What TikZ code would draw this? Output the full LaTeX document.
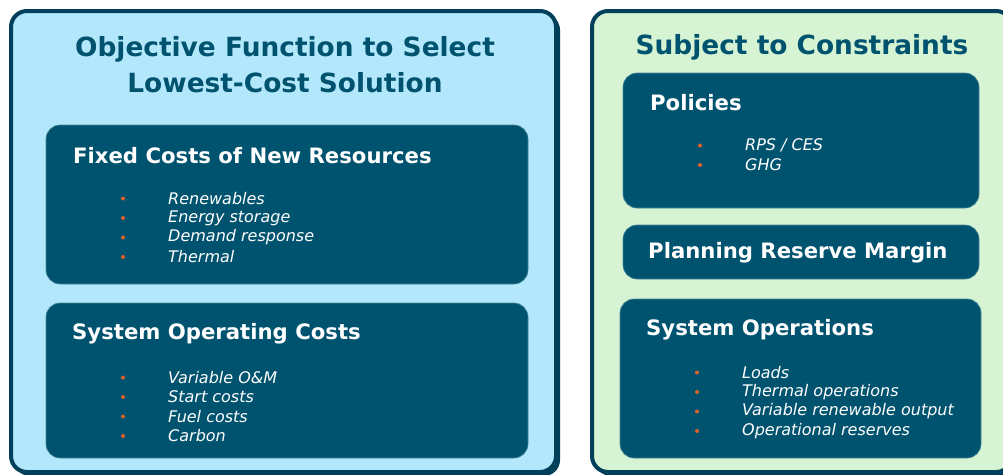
\documentclass[tikz,border=0pt]{standalone}
\usepackage{fontspec}
\setmainfont{DejaVu Sans}
\usetikzlibrary{positioning}

\definecolor{paneline}{HTML}{00405A}
\definecolor{bluepane}{HTML}{B3E7FB}
\definecolor{greenpane}{HTML}{D6F3D3}
\definecolor{tealbox}{HTML}{00536F}
\definecolor{dotorange}{HTML}{E0602A}

\begin{document}
\begin{tikzpicture}[x=1pt, y=-1pt,
  panel/.style={draw=paneline, line width=4pt, rounded corners=16pt},
  box/.style={fill=tealbox, draw=tealbox!70!white, line width=0.6pt, rounded corners=14pt},
  paneltitle/.style={text=tealbox, font=\fontsize{26.4}{36}\selectfont\bfseries, align=center},
  boxtitle/.style={text=white, font=\fontsize{21.2}{24}\selectfont\bfseries, anchor=west, inner sep=0pt},
  item/.style={text=white, font=\fontsize{16}{19}\selectfont\itshape, anchor=west, inner sep=0pt},
]
  \useasboundingbox (0,0) rectangle (1003,474);
  % two outer panels, with a dark shadow
  \fill[paneline, rounded corners=16pt] (14,14) rectangle (560,476);
  \draw[panel, fill=bluepane] (11,11) rectangle (556,472);
  \fill[paneline, rounded corners=16pt] (595,14) rectangle (1015,476);
  \draw[panel, fill=greenpane] (592,11) rectangle (1012,472);
  \node[paneltitle] (objtitle) at (285,65) {Objective Function to Select\\Lowest-Cost Solution};
  \node[paneltitle] (contitle) at (802,47) {Subject to Constraints};

  % left side: cost boxes
  \node[box, minimum width=482, minimum height=159] (fixed) at (287,204.5) {};
  \node[boxtitle] (fixedtitle) at (73,156) {Fixed Costs of New Resources};
  \foreach \txt [count=\i] in {Renewables, Energy storage, Demand response, Thermal} {
    \fill[dotorange] (123,179+19.5*\i) circle (2pt);
    \node[item] (fixed\i) at (168,179+19.5*\i) {\txt};
  }
  \node[box, minimum width=482, minimum height=155] (oper) at (287,380.5) {};
  \node[boxtitle] (opertitle) at (72,334) {System Operating Costs};
  \foreach \txt [count=\i] in {Variable O\&M, Start costs, Fuel costs, Carbon} {
    \fill[dotorange] (123,358+19.5*\i) circle (2pt);
    \node[item] (oper\i) at (168,358+19.5*\i) {\txt};
  }

  % right side: constraint boxes
  \node[box, minimum width=356, minimum height=135] (policy) at (801,140.5) {};
  \node[boxtitle] (policytitle) at (650,103) {Policies};
  \foreach \txt [count=\i] in {RPS / CES, GHG} {
    \fill[dotorange] (700,126+19.5*\i) circle (2pt);
    \node[item] (policy\i) at (745,126+19.5*\i) {\txt};
  }
  \node[box, minimum width=356, minimum height=54] (reserve) at (801,252) {};
  \node[boxtitle] (reservetitle) at (648,253) {Planning Reserve Margin};
  \node[box, minimum width=361, minimum height=159] (sysops) at (800.5,378.5) {};
  \node[boxtitle] (sysopstitle) at (646,330) {System Operations};
  \foreach \txt [count=\i] in {Loads, Thermal operations, Variable renewable output, Operational reserves} {
    \fill[dotorange] (697,353+19.5*\i) circle (2pt);
    \node[item] (sysops\i) at (742,353+19.5*\i) {\txt};
  }
\end{tikzpicture}
\end{document}
